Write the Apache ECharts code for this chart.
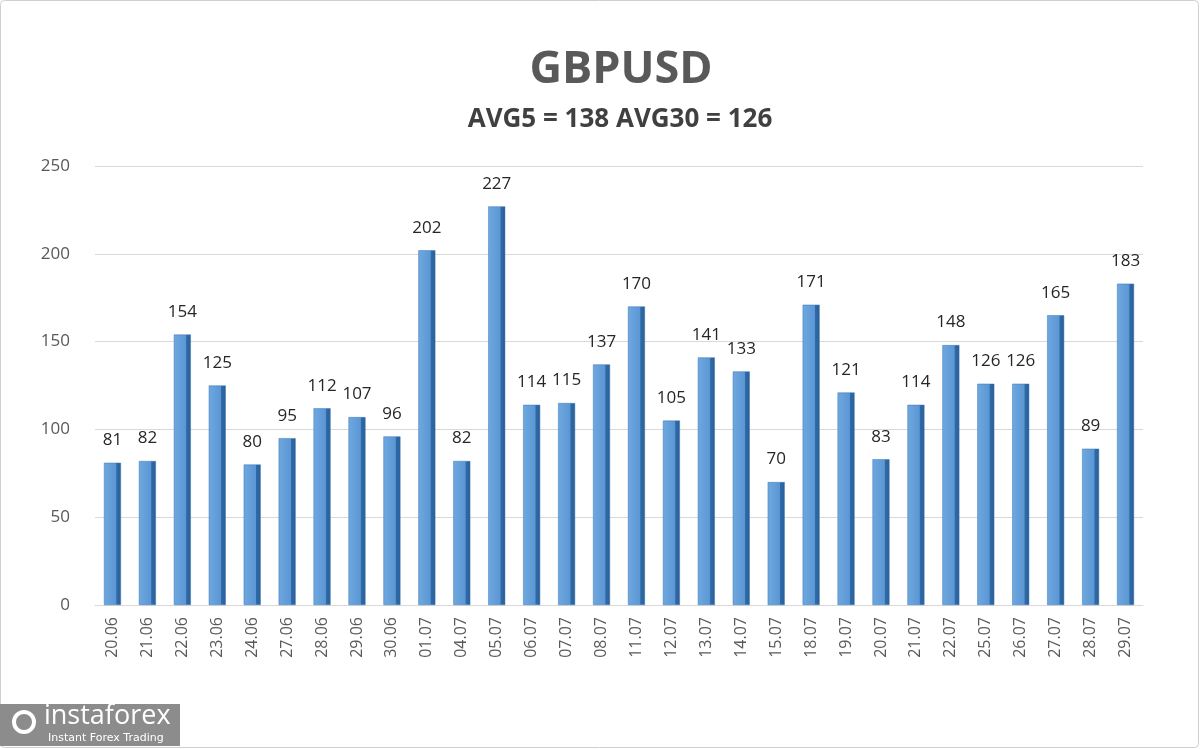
<!DOCTYPE html>
<html><head><meta charset="utf-8">
<script src="https://cdn.jsdelivr.net/npm/echarts@6/dist/echarts.min.js"></script>
<style>html,body{margin:0;padding:0;background:#fff}#c{width:1200px;height:749px}</style>
</head><body><div id="c"></div>
<script>
var categories = ['20.06','21.06','22.06','23.06','24.06','27.06','28.06','29.06','30.06','01.07','04.07','05.07','06.07','07.07','08.07','11.07','12.07','13.07','14.07','15.07','18.07','19.07','20.07','21.07','22.07','25.07','26.07','27.07','28.07','29.07'];
var values = [81,82,154,125,80,95,112,107,96,202,82,227,114,115,137,170,105,141,133,70,171,121,83,114,148,126,126,165,89,183];
var titleText = 'GBPUSD';
var subtitleText = 'AVG5 = 138 AVG30 = 126';

var chart = echarts.init(document.getElementById('c'));
chart.setOption({
  backgroundColor: '#fff',
  animation: false,
  grid: {left: 95, right: 57, top: 166, bottom: 144},
  xAxis: {
    type: 'category', data: categories,
    axisLine: {show: true, lineStyle: {color: '#d9d9d9'}},
    axisTick: {show: false},
    axisLabel: {rotate: 90, fontFamily: 'Open Sans', fontSize: 16, color: '#595959', margin: 12}
  },
  yAxis: {
    type: 'value', min: 0, max: 250, interval: 50,
    axisLine: {show: false}, axisTick: {show: false},
    splitLine: {lineStyle: {color: '#d9d9d9', width: 1}},
    axisLabel: {fontFamily: 'Open Sans', fontSize: 17, color: '#595959', margin: 25}
  },
  series: [{
    type: 'bar', data: values, barWidth: 17,
    itemStyle: {
      color: new echarts.graphic.LinearGradient(0, 0, 1, 0, [
        {offset: 0, color: '#6fa8e0'},
        {offset: 0.7, color: '#5b97d4'},
        {offset: 0.75, color: '#2f6aa8'},
        {offset: 1, color: '#2a5f97'}
      ]),
      borderColor: '#3b76b3', borderWidth: 0.5
    },
    label: {show: true, position: 'top', distance: 14, fontFamily: 'Open Sans', fontSize: 17, color: '#262626'}
  }],
  graphic: [
    {type: 'text', style: {x: 621, y: 48, text: titleText, textAlign: 'center', font: 'bold 45px "Open Sans"', fill: '#595959'}, z: 100},
    {type: 'text', style: {x: 620, y: 107, text: subtitleText, textAlign: 'center', font: 'bold 26px "Open Sans"', fill: '#404040'}, z: 100},
    {type: 'rect', shape: {x: 0.5, y: 0.5, width: 1198, height: 747, r: 4}, style: {fill: 'none', stroke: '#cfcfcf', lineWidth: 1}, z: 100},
    {type: 'rect', shape: {x: 0, y: 704, width: 180, height: 42}, style: {fill: '#8c8c8c'}, z: 100},
    {type: 'circle', shape: {cx: 24, cy: 722, r: 10}, style: {fill: 'none', stroke: '#fff', lineWidth: 4}, z: 101},
    {type: 'text', style: {x: 44, y: 703, text: 'instaforex', font: '27px "Open Sans"', fill: '#fff'}, z: 101},
    {type: 'text', style: {x: 48, y: 733, text: 'Instant Forex Trading', font: '11px "DejaVu Sans"', fill: '#fff'}, z: 101}
  ]
});
</script></body></html>
